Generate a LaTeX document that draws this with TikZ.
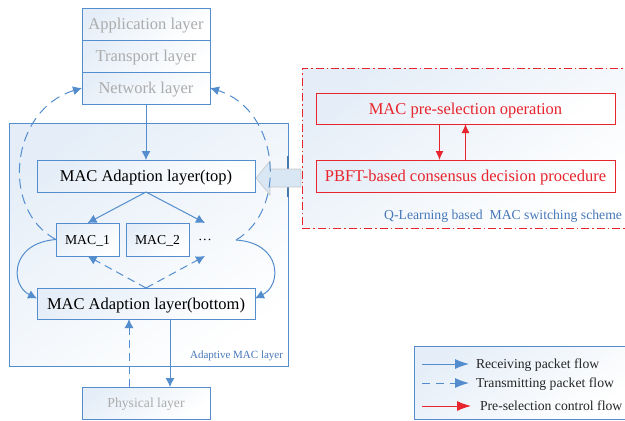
\documentclass[tikz,border=0pt]{standalone}
\usepackage{fontspec}
\setmainfont{Liberation Serif}
\usetikzlibrary{positioning, arrows.meta}
\definecolor{macblue}{RGB}{84,141,205}
\definecolor{macred}{RGB}{232,36,44}
\definecolor{layergray}{RGB}{172,172,172}
\definecolor{labelblue}{RGB}{70,120,185}

\begin{document}
\begin{tikzpicture}[x=1pt, y=-1pt,
    every node/.style={inner sep=0pt, outer sep=0pt, align=center},
    bigfont/.style={font=\fontsize{16.5}{19}\selectfont, text height=11pt, text depth=0pt},
    midfont/.style={font=\fontsize{13.7}{16}\selectfont, text height=9pt, text depth=0pt},
    smallfont/.style={font=\fontsize{11}{13}\selectfont},
    softfill/.style={top color=macblue!15, bottom color=white, shading angle=35},
    layer/.style={draw=macblue, line width=1pt, softfill, text=layergray, bigfont, minimum width=128pt, minimum height=32pt},
    macbox/.style={draw=macblue, line width=1pt, softfill, text=black, minimum height=32pt},
    redbox/.style={draw=macred, line width=1pt, softfill, text=macred, bigfont, minimum width=299pt, minimum height=31pt},
    recvflow/.style={draw=macblue, line width=1pt, -{Latex[length=9pt, width=9pt]}},
    sendflow/.style={recvflow, dash pattern=on 8pt off 5pt},
    ctrlflow/.style={draw=macred, line width=1.2pt, -{Latex[length=9pt, width=8pt]}},
    legendarrow/.style={-{Latex[length=14pt, width=10pt]}, line width=1pt},
    bigarrow/.style={draw=black!22, fill=macblue!22, line width=0.6pt}
]
\useasboundingbox (0,0) rectangle (625,421);

\node[draw=macblue, line width=1pt, softfill, minimum width=279pt, minimum height=243pt] (adapt) at (148.5,244.5) {};
\node[smallfont, text=labelblue, anchor=south east] (adaptlabel) at ([xshift=-5pt, yshift=5pt]adapt.south east) {Adaptive MAC layer};
\draw[macblue!85!black, line width=1.6pt] ([yshift=89pt]adapt.east) -- ([yshift=48pt]adapt.east);

\node[draw=macred, line width=1pt, dash pattern=on 8pt off 3pt on 1.5pt off 3pt, softfill, minimum width=326pt, minimum height=160pt] (qbox) at (465,148) {};
\node[font=\fontsize{13.7}{16}\selectfont, text=labelblue, anchor=south east] (qlabel) at ([xshift=-6pt, yshift=6pt]qbox.south east) {Q-Learning based\ \ MAC switching scheme};

\node[layer] (app) at (146,24) {Application layer};
\node[layer, below=0pt of app] (trans) {Transport layer};
\node[layer, below=0pt of trans] (net) {Network layer};

\node[macbox, bigfont, minimum width=218pt] (top) at (146,176) {MAC Adaption layer(top)};
\node[macbox, midfont, minimum width=63pt, minimum height=33pt] (mac1) at (87.5,239.5) {MAC\_1};
\node[macbox, midfont, minimum width=63pt, minimum height=33pt, right=7pt of mac1] (mac2) {MAC\_2};
\node[midfont, minimum height=33pt] (dots) at (205,239.5) {···};
\coordinate (dotsright) at (236,240);
\node[macbox, bigfont, minimum width=218pt, minimum height=31pt] (bottom) at (146,303.5) {MAC Adaption layer(bottom)};
\node[layer, midfont] (phys) at (146,403) {Physical layer};

\node[redbox] (presel) at (465.5,108.5) {MAC pre-selection operation};
\node[redbox, minimum height=32pt] (pbft) at (465.5,176) {PBFT-based consensus decision procedure};

\draw[bigarrow] (301,169) -- (270,169) -- (270,161) -- (256,178) -- (270,195) -- (270,187) -- (301,187) -- cycle;

\draw[recvflow] (net.south) -- (top.north);
\draw[recvflow] (top.south) -- (mac1.north);
\draw[recvflow] (top.south) -- (dots.north);
\draw[sendflow] (bottom.north) -- (mac1.south);
\draw[sendflow] (bottom.north) -- (dots.south);
\draw[recvflow] (mac1.west) .. controls (10,243) and (10,285) .. ([yshift=5pt]bottom.west);
\draw[recvflow] (dotsright) .. controls (282,243) and (282,285) .. ([yshift=5pt]bottom.east);
\draw[sendflow, dash pattern=on 10pt off 6pt] (mac1.west) .. controls (0,210) and (10,110) .. (net.west);
\draw[sendflow, dash pattern=on 10pt off 6pt] (dotsright) .. controls (288,210) and (280,110) .. (net.east);
\draw[recvflow] ([xshift=24pt]bottom.south) -- ([xshift=24pt]phys.north);
\draw[sendflow] ([xshift=-17pt]phys.north) -- ([xshift=-17pt]bottom.south);

\draw[ctrlflow] ([xshift=-26pt]presel.south) -- ([xshift=-26pt]pbft.north);
\draw[ctrlflow] (pbft.north) -- (presel.south);

\node[draw=macblue, line width=1pt, softfill, minimum width=214pt, minimum height=73pt] (legend) at (521,382.5) {};
\node[midfont, text=black!85, anchor=west] (recvtext) at (476,364) {Receiving packet flow};
\node[midfont, text=black!85, anchor=west] (sendtext) at (476,383) {Transmitting packet flow};
\node[midfont, text=black!85, anchor=west] (ctrltext) at (480,406) {Pre-selection control flow};
\coordinate (recvstart) at (422,364);
\coordinate (sendstart) at (422,383);
\coordinate (ctrlstart) at (422,406);
\draw[legendarrow, draw=macblue] (recvstart) -- ([xshift=-7pt]recvtext.west);
\draw[legendarrow, draw=macblue, dash pattern=on 8pt off 6pt] (sendstart) -- ([xshift=-7pt]sendtext.west);
\draw[legendarrow, draw=macred] (ctrlstart) -- ([xshift=-9pt]ctrltext.west);
\end{tikzpicture}
\end{document}
